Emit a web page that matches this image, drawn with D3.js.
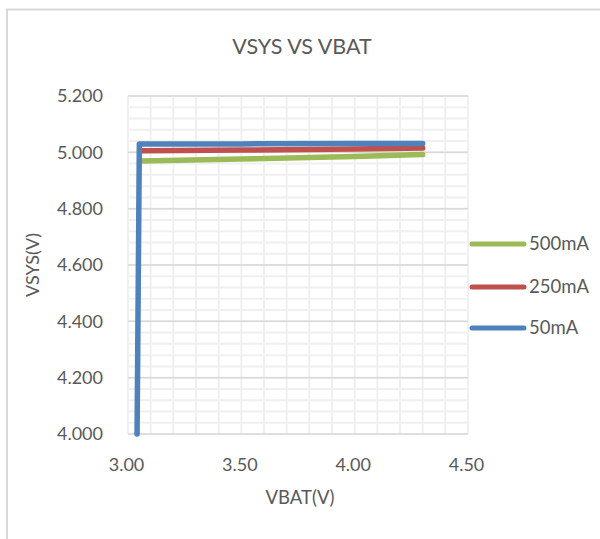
<!DOCTYPE html>
<html>
<head>
<meta charset="utf-8">
<script src="https://cdn.jsdelivr.net/npm/d3@7"></script>
<style>
  body { margin: 0; background: #fff; }
  text { font-family: Lato, "Open Sans", sans-serif; fill: #595959; }
</style>
</head>
<body>
<svg width="600" height="539"></svg>
<script>
// series (VBAT, VSYS)
const seriesNames = ["500mA", "250mA", "50mA"];
const seriesColors = ["#9bbb59", "#c0504d", "#4f81bd"];
const vbat500 = [3.06, 3.5, 4.0, 4.3];
const vsys500 = [4.969, 4.976, 4.985, 4.992];
const vbat250 = [3.06, 3.5, 4.0, 4.3];
const vsys250 = [5.006, 5.008, 5.012, 5.015];
const vbat50 = [3.04, 3.05, 3.5, 4.0, 4.3];
const vsys50 = [4.0, 5.03, 5.03, 5.031, 5.031];
const xTicks = [3.0, 3.5, 4.0, 4.5];
const yTicks = [4.0, 4.2, 4.4, 4.6, 4.8, 5.0, 5.2];

const svg = d3.select("svg");
const x = d3.scaleLinear().domain([3.0, 4.5]).range([128, 468]);
const y = d3.scaleLinear().domain([4.0, 5.2]).range([434, 96]);

// chart border (left + top only visible in the crop)
svg.append("path")
  .attr("d", "M7,539 V9.5 H600")
  .attr("fill", "none")
  .attr("stroke", "#d9d9d9")
  .attr("stroke-width", 2);

// minor gridlines
const minorX = d3.range(3.0, 4.5001, 0.1);
const minorY = d3.range(4.0, 5.2001, 0.04);
svg.append("g").selectAll("line").data(minorX).join("line")
  .attr("x1", d => x(d)).attr("x2", d => x(d))
  .attr("y1", y(4.0)).attr("y2", y(5.2))
  .attr("stroke", "#f0f0f0").attr("stroke-width", 2);
svg.append("g").selectAll("line").data(minorY).join("line")
  .attr("x1", x(3.0)).attr("x2", x(4.5))
  .attr("y1", d => y(d)).attr("y2", d => y(d))
  .attr("stroke", "#f0f0f0").attr("stroke-width", 2);

// major horizontal gridlines
svg.append("g").selectAll("line").data(yTicks.slice(1)).join("line")
  .attr("x1", x(3.0)).attr("x2", x(4.5))
  .attr("y1", d => y(d)).attr("y2", d => y(d))
  .attr("stroke", "#d9d9d9").attr("stroke-width", 1.5);

// x axis baseline
svg.append("line")
  .attr("x1", x(3.0)).attr("x2", x(4.5))
  .attr("y1", y(4.0)).attr("y2", y(4.0))
  .attr("stroke", "#d9d9d9").attr("stroke-width", 1.5);

// axes labels via d3 axes
const xAxis = svg.append("g")
  .attr("transform", `translate(-2,${y(4.0) + 21})`)
  .call(d3.axisBottom(x).tickValues(xTicks).tickFormat(d3.format(".2f")).tickSize(0));
xAxis.select(".domain").remove();
xAxis.selectAll("text").attr("font-size", 18).attr("dy", "0.71em").attr("fill", "#595959");

const yAxis = svg.append("g")
  .attr("transform", `translate(${x(3.0) - 25},0)`)
  .call(d3.axisLeft(y).tickValues(yTicks).tickFormat(d3.format(".3f")).tickSize(0));
yAxis.select(".domain").remove();
yAxis.selectAll("text").attr("font-size", 18).attr("x", 0).attr("fill", "#595959");
svg.selectAll(".tick text").style("font-family", "Lato, 'Open Sans', sans-serif");

// lines
const line = d3.line().x(d => x(d[0])).y(d => y(d[1]));
const data = [
  d3.zip(vbat500, vsys500),
  d3.zip(vbat250, vsys250),
  d3.zip(vbat50, vsys50)
];
svg.append("g").selectAll("path").data(data).join("path")
  .attr("d", line)
  .attr("fill", "none")
  .attr("stroke", (d, i) => seriesColors[i])
  .attr("stroke-width", 5.5)
  .attr("stroke-linejoin", "round")
  .attr("stroke-linecap", "round");

// titles
svg.append("text").attr("x", 302).attr("y", 54)
  .attr("text-anchor", "middle").attr("font-size", 21.5).text("VSYS VS VBAT");
svg.append("text").attr("x", 300).attr("y", 504)
  .attr("text-anchor", "middle").attr("font-size", 18.5).text("VBAT(V)");
svg.append("text")
  .attr("transform", "translate(39,265) rotate(-90)")
  .attr("text-anchor", "middle").attr("font-size", 18).text("VSYS(V)");

// legend
const legY = [244, 287, 328];
const leg = svg.append("g").selectAll("g").data(seriesNames).join("g")
  .attr("transform", (d, i) => `translate(0,${legY[i]})`);
leg.append("line")
  .attr("x1", 472).attr("x2", 524)
  .attr("stroke", (d, i) => seriesColors[i])
  .attr("stroke-width", 5).attr("stroke-linecap", "round");
leg.append("text").attr("x", 529).attr("dy", "0.35em")
  .attr("font-size", 18.5).text(d => d);
</script>
</body>
</html>
